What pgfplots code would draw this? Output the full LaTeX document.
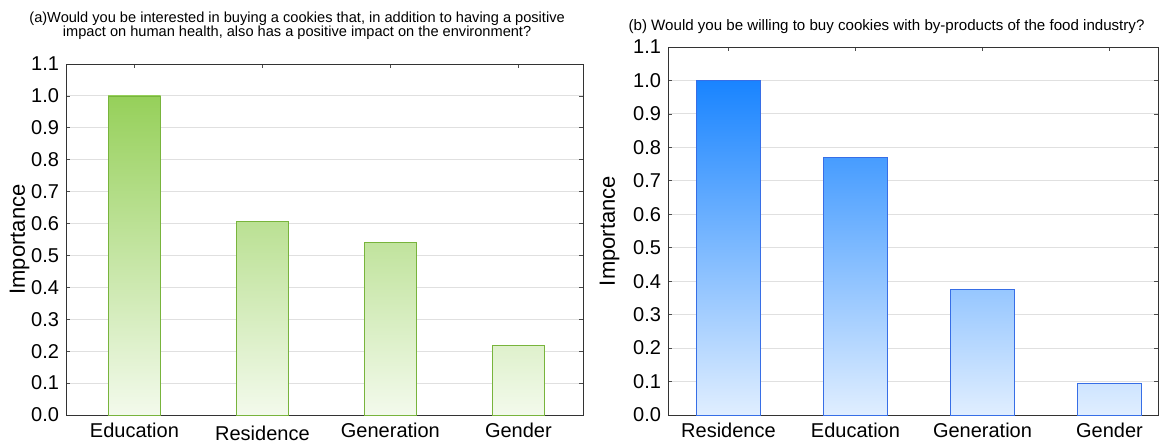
\documentclass[border=0pt]{standalone}
\usepackage{pgfplots}
\pgfplotsset{compat=1.18}
\usepackage{fontspec}
\setmainfont{Liberation Sans}
\definecolor{gTop}{RGB}{150,208,90}
\definecolor{gBot}{RGB}{243,250,236}
\definecolor{gEdge}{RGB}{120,180,60}
\definecolor{bTop}{RGB}{25,132,255}
\definecolor{bBot}{RGB}{224,238,255}
\definecolor{bEdge}{RGB}{55,110,230}
\definecolor{gridc}{RGB}{224,224,224}
\pgfplotsset{
  myax/.style={
    scale only axis,
    ymin=0, ymax=1.1,
    ytick={0,0.1,...,1.1},
    yticklabel style={/pgf/number format/.cd,fixed,fixed zerofill,precision=1},
    /pgf/number format/assume math mode=true,
    xtick={0,1,2,3},
    ymajorgrids, major grid style={gridc, line width=0.5pt},
    axis line style={black!80, line width=0.5pt},
    tick style={black!70, line width=0.4pt},
    major tick length=2pt,
    tick label style={font=\fontsize{10}{11}\selectfont},
    ylabel style={font=\fontsize{11}{12}\selectfont},
    ylabel={Importance},
    xticklabel style={yshift=-0.5pt},
  },
}
\begin{document}
\begin{tikzpicture}
\useasboundingbox (0,0) rectangle (583.5pt,220.5pt);
\begin{axis}[myax,
  at={(33pt,13pt)}, anchor=south west,
  width=258.5pt, height=175.5pt,
  xmin=-0.535, xmax=3.505,
  xticklabels={Education,\raisebox{-1.5pt}[\height]{Residence},Generation,Gender},
  ylabel style={yshift=-6pt},
  title={(a)Would you be interested in buying a cookies that, in addition to having a positive\\impact on human health, also has a positive impact on the environment?},
  title style={at={(rel axis cs:0.447,1)}, anchor=south, yshift=2.5pt, align=center, font=\fontsize{7.3}{7.4}\selectfont},
]
\addplot[ybar, bar width=0.41, bar shift=0pt, draw=gEdge, top color=gTop, bottom color=gBot] coordinates {(0,1.0)};
\addplot[ybar, bar width=0.41, bar shift=0pt, draw=gEdge, top color=gTop!61!gBot, bottom color=gBot] coordinates {(1,0.608)};
\addplot[ybar, bar width=0.41, bar shift=0pt, draw=gEdge, top color=gTop!54!gBot, bottom color=gBot] coordinates {(2,0.542)};
\addplot[ybar, bar width=0.41, bar shift=0pt, draw=gEdge, top color=gTop!22!gBot, bottom color=gBot] coordinates {(3,0.219)};
\end{axis}
\begin{axis}[myax,
  at={(334pt,13pt)}, anchor=south west,
  width=245pt, height=184pt,
  xmin=-0.476, xmax=3.382,
  xticklabels={Residence,Education,Generation,Gender},
  title={(b) Would you be willing to buy cookies with by-products of the food industry?},
  title style={at={(rel axis cs:0.446,1)}, anchor=south, yshift=-3pt, font=\fontsize{7.55}{8}\selectfont},
]
\addplot[ybar, bar width=0.5, bar shift=0pt, draw=bEdge, top color=bTop, bottom color=bBot] coordinates {(0,1.0)};
\addplot[ybar, bar width=0.5, bar shift=0pt, draw=bEdge, top color=bTop!77!bBot, bottom color=bBot] coordinates {(1,0.77)};
\addplot[ybar, bar width=0.5, bar shift=0pt, draw=bEdge, top color=bTop!37!bBot, bottom color=bBot] coordinates {(2,0.375)};
\addplot[ybar, bar width=0.5, bar shift=0pt, draw=bEdge, top color=bTop!9!bBot, bottom color=bBot] coordinates {(3,0.095)};
\end{axis}
\end{tikzpicture}
\end{document}
